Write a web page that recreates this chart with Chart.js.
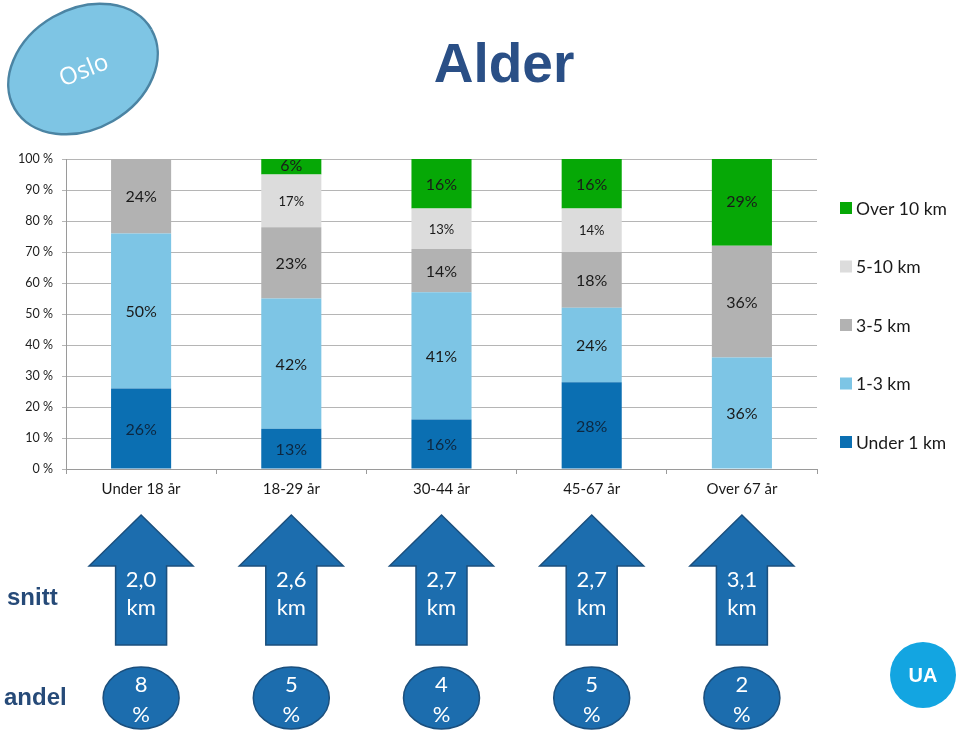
<!DOCTYPE html>
<html>
<head>
<meta charset="utf-8">
<title>Alder</title>
<script src="https://cdn.jsdelivr.net/npm/chart.js@4.4.1/dist/chart.umd.min.js"></script>
<style>
  html, body { margin: 0; padding: 0; background: #fff; }
  #ageChart { display: block; }
</style>
</head>
<body>
<canvas id="ageChart" width="960" height="734"></canvas>
<script>
const ageGroups = ["Under 18 år", "18-29 år", "30-44 år", "45-67 år", "Over 67 år"];
const seriesNames = ["Under 1 km", "1-3 km", "3-5 km", "5-10 km", "Over 10 km"];
const seriesColors = ["#0b6fb2", "#7dc5e5", "#b2b2b2", "#dcdcdc", "#06a806"];

// share of trips per distance band (percent)
const under1 = [26, 13, 16, 28, 0];
const km1to3 = [50, 42, 41, 24, 36];
const km3to5 = [24, 23, 14, 18, 36];
const km5to10 = [0, 17, 13, 14, 0];
const over10 = [0, 6, 16, 16, 29];

const yTicks = [0, 10, 20, 30, 40, 50, 60, 70, 80, 90, 100];

// average distance and share of respondents per age group
const avgKm = ["2,0", "2,6", "2,7", "2,7", "3,1"];
const shareOfAll = ["8", "5", "4", "5", "2"];

const seriesValues = [under1, km1to3, km3to5, km5to10, over10];

const canvas = document.getElementById("ageChart");
const sansFont = "Lato, 'Open Sans', sans-serif";
const boldFont = "'Liberation Sans', Arial, sans-serif";
const arrowBlue = "#1c6dae";
const arrowEdge = "#1b4f7d";

const segmentLabels = {
  id: "segmentLabels",
  afterDatasetsDraw(chart) {
    const ctx = chart.ctx;
    ctx.save();
    ctx.textAlign = "center";
    ctx.textBaseline = "middle";
    chart.data.datasets.forEach((ds, di) => {
      const meta = chart.getDatasetMeta(di);
      meta.data.forEach((bar, i) => {
        const v = ds.data[i];
        if (!v) return;
        const size = di === 3 ? 13 : 16;
        ctx.font = size + "px " + sansFont;
        ctx.fillStyle = di === 0 ? "#0d2740" : "#1a1a1a";
        ctx.fillText(v + "%", bar.x, (bar.y + bar.base) / 2 + 1);
      });
    });
    ctx.restore();
  }
};

const sideLegend = {
  id: "sideLegend",
  afterDraw(chart) {
    const ctx = chart.ctx;
    const sets = chart.data.datasets;
    ctx.save();
    ctx.textBaseline = "middle";
    ctx.textAlign = "left";
    ctx.font = "17.5px " + sansFont;
    for (let k = 0; k < sets.length; k++) {
      const ds = sets[sets.length - 1 - k];
      const y = 208 + k * 58.5;
      ctx.fillStyle = ds.backgroundColor;
      ctx.fillRect(840, y - 6, 12, 12);
      ctx.fillStyle = "#1a1a1a";
      ctx.fillText(ds.label, 856, y + 1);
    }
    ctx.restore();
  }
};

function ellipse(ctx, x, y, rx, ry, rot) {
  ctx.beginPath();
  ctx.ellipse(x, y, rx, ry, rot, 0, Math.PI * 2);
}

const decorations = {
  id: "decorations",
  afterDraw(chart) {
    const ctx = chart.ctx;
    const xs = chart.scales.x;
    ctx.save();

    // Oslo badge
    ellipse(ctx, 83, 69, 79, 60, -Math.PI / 6);
    ctx.fillStyle = "#7ec5e4";
    ctx.fill();
    ctx.lineWidth = 2.5;
    ctx.strokeStyle = "#4b84a3";
    ctx.stroke();
    ctx.save();
    ctx.translate(84, 71);
    ctx.rotate(-0.38);
    ctx.fillStyle = "#fff";
    ctx.font = "24px 'Open Sans', sans-serif";
    ctx.textAlign = "center";
    ctx.textBaseline = "middle";
    ctx.fillText("Oslo", 0, 0);
    ctx.restore();

    // title
    ctx.fillStyle = "#2a4f86";
    ctx.font = "bold 55px " + boldFont;
    ctx.textAlign = "center";
    ctx.textBaseline = "alphabetic";
    ctx.fillText("Alder", 504, 82);

    // row captions
    ctx.fillStyle = "#264a78";
    ctx.font = "bold 24px " + boldFont;
    ctx.textAlign = "left";
    ctx.fillText("snitt", 7, 605);
    ctx.fillText("andel", 4, 705);

    // arrows and ovals
    ctx.textAlign = "center";
    ctx.textBaseline = "middle";
    ageGroups.forEach((g, i) => {
      const cx = xs.getPixelForValue(i);
      ctx.beginPath();
      ctx.moveTo(cx, 515);
      ctx.lineTo(cx + 52, 566);
      ctx.lineTo(cx + 25.5, 566);
      ctx.lineTo(cx + 25.5, 645);
      ctx.lineTo(cx - 25.5, 645);
      ctx.lineTo(cx - 25.5, 566);
      ctx.lineTo(cx - 52, 566);
      ctx.closePath();
      ctx.fillStyle = arrowBlue;
      ctx.fill();
      ctx.lineWidth = 1.5;
      ctx.strokeStyle = arrowEdge;
      ctx.stroke();
      ctx.fillStyle = "#fff";
      ctx.font = "22px " + sansFont;
      ctx.fillText(avgKm[i], cx, 580);
      ctx.fillText("km", cx, 608);

      ellipse(ctx, cx, 698, 38, 31, 0);
      ctx.fillStyle = arrowBlue;
      ctx.fill();
      ctx.strokeStyle = arrowEdge;
      ctx.stroke();
      ctx.fillStyle = "#fff";
      ctx.fillText(shareOfAll[i], cx, 685);
      ctx.fillText("%", cx, 715);
    });

    // UA badge
    ellipse(ctx, 923, 675, 33, 33, 0);
    ctx.fillStyle = "#13a5e1";
    ctx.fill();
    ctx.fillStyle = "#fff";
    ctx.font = "bold 20px " + boldFont;
    ctx.fillText("UA", 923, 676);

    ctx.restore();
  }
};

new Chart(canvas, {
  type: "bar",
  data: {
    labels: ageGroups,
    datasets: seriesNames.map((name, i) => ({
      label: name,
      data: seriesValues[i],
      backgroundColor: seriesColors[i],
      borderWidth: 0,
      barPercentage: 0.8,
      categoryPercentage: 0.5
    }))
  },
  options: {
    responsive: false,
    animation: false,
    layout: { padding: { left: 10, right: 143, top: 159, bottom: 225 } },
    plugins: {
      legend: { display: false },
      tooltip: { enabled: false }
    },
    scales: {
      x: {
        stacked: true,
        afterFit(scale) { scale.height = 40; },
        grid: { drawOnChartArea: false, drawTicks: true, tickLength: 5, offset: true, color: "#9a9a9a" },
        border: { color: "#9a9a9a" },
        ticks: { color: "#1a1a1a", padding: 6, font: { family: sansFont, size: 15 } }
      },
      y: {
        stacked: true,
        min: 0,
        max: 100,
        afterFit(scale) { scale.width = 56; },
        afterBuildTicks(scale) { scale.ticks = yTicks.map(v => ({ value: v })); },
        grid: { color: "#b5b5b5", tickLength: 4 },
        border: { color: "#9a9a9a" },
        ticks: {
          color: "#222",
          padding: 9,
          font: { family: sansFont, size: 12.5 },
          callback: v => v + " %"
        }
      }
    }
  },
  plugins: [segmentLabels, sideLegend, decorations]
});
</script>
</body>
</html>
